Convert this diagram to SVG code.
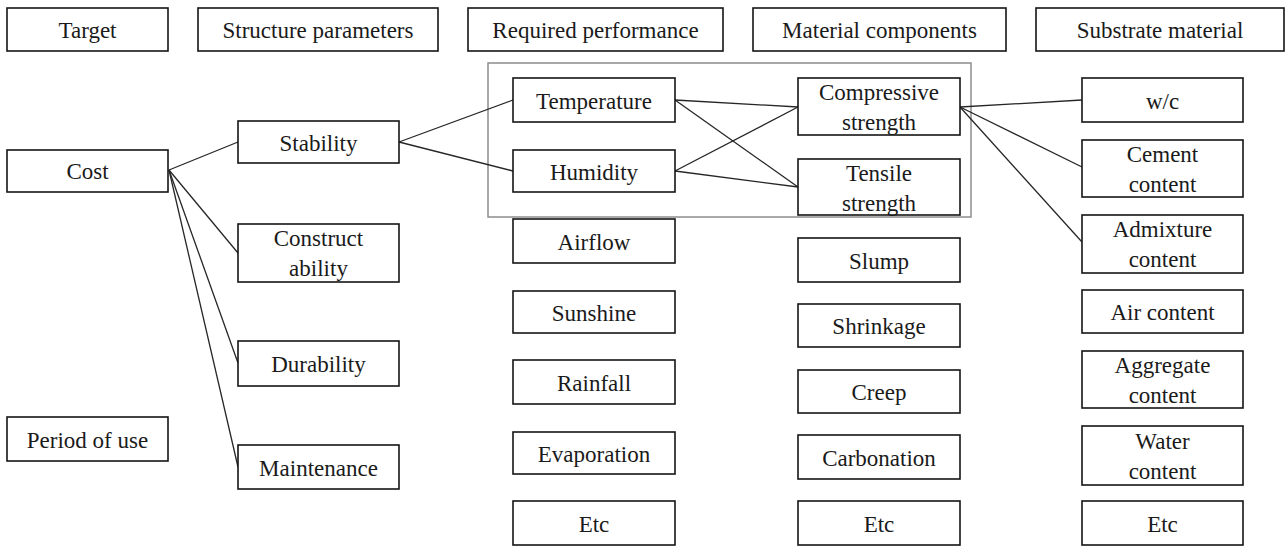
<svg xmlns="http://www.w3.org/2000/svg" width="1286" height="546" viewBox="0 0 1286 546">
<style>
.box{fill:#fff;stroke:#141414;stroke-width:1.6}
.frame{fill:none;stroke:#8c8c8c;stroke-width:1.5}
.t{font-family:"Liberation Serif","Times New Roman",serif;font-size:23px;fill:#1a1a1a;text-anchor:middle}
.conn line{stroke:#262626;stroke-width:1.3}
</style>
<rect class="frame" x="488" y="63" width="483" height="154"/>
<g class="conn">
<line x1="169" y1="170" x2="238" y2="142"/>
<line x1="169" y1="170" x2="238" y2="253"/>
<line x1="169" y1="170" x2="238" y2="363"/>
<line x1="169" y1="170" x2="238" y2="467"/>
<line x1="399" y1="142" x2="513" y2="100"/>
<line x1="399" y1="142" x2="513" y2="171"/>
<line x1="675" y1="100" x2="798" y2="107"/>
<line x1="675" y1="100" x2="798" y2="187"/>
<line x1="675" y1="171" x2="798" y2="107"/>
<line x1="675" y1="171" x2="798" y2="187"/>
<line x1="960" y1="107" x2="1082" y2="100"/>
<line x1="960" y1="107" x2="1082" y2="167"/>
<line x1="960" y1="107" x2="1082" y2="242"/>
</g>
<g id="h-target"><rect class="box" x="7" y="8" width="161" height="43"/><text class="t" x="87.5" y="38">Target</text></g>
<g id="h-structure"><rect class="box" x="198" y="8" width="240" height="43"/><text class="t" x="318" y="38">Structure parameters</text></g>
<g id="h-required"><rect class="box" x="468" y="8" width="255" height="43"/><text class="t" x="595.5" y="38">Required performance</text></g>
<g id="h-material"><rect class="box" x="753" y="8" width="253" height="43"/><text class="t" x="879.5" y="38">Material components</text></g>
<g id="h-substrate"><rect class="box" x="1036" y="8" width="248" height="43"/><text class="t" x="1160" y="38">Substrate material</text></g>

<g id="cost"><rect class="box" x="7" y="150" width="161" height="42"/><text class="t" x="87.5" y="179">Cost</text></g>
<g id="period"><rect class="box" x="7" y="417" width="161" height="44"/><text class="t" x="87.5" y="447.5">Period of use</text></g>

<g id="stability"><rect class="box" x="238" y="121" width="161" height="42"/><text class="t" x="318.5" y="150.5">Stability</text></g>
<g id="constructability"><rect class="box" x="238" y="224" width="161" height="58"/><text class="t" x="318.5" y="246">Construct</text><text class="t" x="318.5" y="276">ability</text></g>
<g id="durability"><rect class="box" x="238" y="341" width="161" height="45"/><text class="t" x="318.5" y="372">Durability</text></g>
<g id="maintenance"><rect class="box" x="238" y="445" width="161" height="44"/><text class="t" x="318.5" y="475.5">Maintenance</text></g>

<g id="temperature"><rect class="box" x="513" y="78" width="162" height="44"/><text class="t" x="594" y="108.5">Temperature</text></g>
<g id="humidity"><rect class="box" x="513" y="150" width="162" height="42"/><text class="t" x="594" y="179.5">Humidity</text></g>
<g id="airflow"><rect class="box" x="513" y="219" width="162" height="44"/><text class="t" x="594" y="249.5">Airflow</text></g>
<g id="sunshine"><rect class="box" x="513" y="291" width="162" height="42"/><text class="t" x="594" y="320.5">Sunshine</text></g>
<g id="rainfall"><rect class="box" x="513" y="360" width="162" height="44"/><text class="t" x="594" y="390.5">Rainfall</text></g>
<g id="evaporation"><rect class="box" x="513" y="432" width="162" height="42"/><text class="t" x="594" y="461.5">Evaporation</text></g>
<g id="etc-c"><rect class="box" x="513" y="501" width="162" height="44"/><text class="t" x="594" y="531.5">Etc</text></g>

<g id="compressive"><rect class="box" x="798" y="78" width="162" height="57"/><text class="t" x="879" y="100">Compressive</text><text class="t" x="879" y="130">strength</text></g>
<g id="tensile"><rect class="box" x="798" y="159" width="162" height="56"/><text class="t" x="879" y="181">Tensile</text><text class="t" x="879" y="211">strength</text></g>
<g id="slump"><rect class="box" x="798" y="238" width="162" height="44"/><text class="t" x="879" y="268.5">Slump</text></g>
<g id="shrinkage"><rect class="box" x="798" y="304" width="162" height="43"/><text class="t" x="879" y="334">Shrinkage</text></g>
<g id="creep"><rect class="box" x="798" y="370" width="162" height="43"/><text class="t" x="879" y="400">Creep</text></g>
<g id="carbonation"><rect class="box" x="798" y="435" width="162" height="44"/><text class="t" x="879" y="465.5">Carbonation</text></g>
<g id="etc-d"><rect class="box" x="798" y="501" width="162" height="44"/><text class="t" x="879" y="531.5">Etc</text></g>

<g id="wc"><rect class="box" x="1082" y="78" width="161" height="44"/><text class="t" x="1162.5" y="108.5">w/c</text></g>
<g id="cement"><rect class="box" x="1082" y="140" width="161" height="57"/><text class="t" x="1162.5" y="162">Cement</text><text class="t" x="1162.5" y="192">content</text></g>
<g id="admixture"><rect class="box" x="1082" y="215" width="161" height="58"/><text class="t" x="1162.5" y="237">Admixture</text><text class="t" x="1162.5" y="267">content</text></g>
<g id="air"><rect class="box" x="1082" y="290" width="161" height="43"/><text class="t" x="1162.5" y="320">Air content</text></g>
<g id="aggregate"><rect class="box" x="1082" y="351" width="161" height="57"/><text class="t" x="1162.5" y="373">Aggregate</text><text class="t" x="1162.5" y="403">content</text></g>
<g id="water"><rect class="box" x="1082" y="426" width="161" height="59"/><text class="t" x="1162.5" y="449">Water</text><text class="t" x="1162.5" y="479">content</text></g>
<g id="etc-e"><rect class="box" x="1082" y="501" width="161" height="44"/><text class="t" x="1162.5" y="531.5">Etc</text></g>
</svg>
